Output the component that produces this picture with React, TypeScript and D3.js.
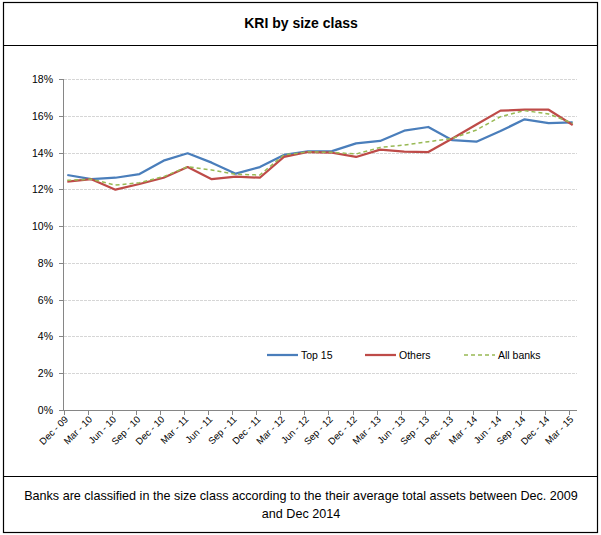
import React, { useEffect, useRef } from 'react';
import * as d3 from 'd3';

const quarters = [
  'Dec - 09', 'Mar - 10', 'Jun - 10', 'Sep - 10', 'Dec - 10', 'Mar - 11', 'Jun - 11', 'Sep - 11',
  'Dec - 11', 'Mar - 12', 'Jun - 12', 'Sep - 12', 'Dec - 12', 'Mar - 13', 'Jun - 13', 'Sep - 13',
  'Dec - 13', 'Mar - 14', 'Jun - 14', 'Sep - 14', 'Dec - 14', 'Mar - 15',
];

const top15 = [
  12.78, 12.56, 12.63, 12.83, 13.56, 13.96, 13.45, 12.85, 13.21, 13.87, 14.06,
  14.08, 14.5, 14.63, 15.19, 15.39, 14.67, 14.59, 15.17, 15.81, 15.6, 15.64,
];

const others = [
  12.42, 12.55, 11.98, 12.29, 12.63, 13.21, 12.55, 12.69, 12.63, 13.77, 14.03,
  13.99, 13.76, 14.16, 14.05, 14.03, 14.77, 15.53, 16.28, 16.33, 16.33, 15.5,
];

const allBanks = [
  12.49, 12.55, 12.23, 12.36, 12.69, 13.23, 13.05, 12.82, 12.78, 13.87, 14.04,
  14.01, 13.92, 14.28, 14.41, 14.59, 14.77, 15.23, 15.95, 16.28, 16.1, 15.59,
];

const yTicks = [0, 2, 4, 6, 8, 10, 12, 14, 16, 18];

const series = [
  { name: 'Top 15', values: top15, color: '#4a7ebb', width: 2.25, dash: null },
  { name: 'Others', values: others, color: '#be4b48', width: 2.25, dash: null },
  { name: 'All banks', values: allBanks, color: '#98b954', width: 1.5, dash: '4,3' },
];

const font = "'Liberation Sans', Arial, sans-serif";

export default function App() {
  const ref = useRef<SVGSVGElement>(null);

  useEffect(() => {
    const svg = d3.select(ref.current);
    svg.selectAll('*').remove();

    const W = 601, H = 535;

    // frame
    svg.append('rect').attr('width', W).attr('height', H).attr('fill', '#fff');
    svg.append('rect')
      .attr('x', 3.5).attr('y', 2.5).attr('width', 594).attr('height', 530)
      .attr('fill', 'none').attr('stroke', '#000').attr('stroke-width', 1.2);
    [45.5, 476.5].forEach(yy => {
      svg.append('line').attr('x1', 3.5).attr('x2', 597.5).attr('y1', yy).attr('y2', yy)
        .attr('stroke', '#000').attr('stroke-width', 1.2);
    });

    svg.append('text')
      .attr('x', 301).attr('y', 28)
      .attr('text-anchor', 'middle')
      .style('font-family', font).style('font-size', '14px').style('font-weight', 'bold')
      .text('KRI by size class');

    const footer = svg.append('text')
      .attr('text-anchor', 'middle')
      .style('font-family', font).style('font-size', '12.6px');
    footer.append('tspan').attr('x', 301).attr('y', 500)
      .text('Banks are classified in the size class according to the their average total assets between Dec. 2009');
    footer.append('tspan').attr('x', 301).attr('y', 518).text('and Dec 2014');

    // scales
    const x = d3.scalePoint<string>().domain(quarters).range([67.3, 572.7]);
    const y = d3.scaleLinear().domain([0, 18]).range([410, 79]);
    const tickOff = -3.6;

    // gridlines
    svg.append('g').selectAll('line')
      .data(yTicks.filter(t => t > 0))
      .enter().append('line')
      .attr('x1', 64).attr('x2', 577)
      .attr('y1', d => Math.round(y(d)) + 0.5).attr('y2', d => Math.round(y(d)) + 0.5)
      .attr('stroke', '#d6d6d6').attr('stroke-width', 1).attr('stroke-dasharray', '3,1');

    // y axis
    const ga = svg.append('g');
    ga.append('line').attr('x1', 63.5).attr('x2', 63.5).attr('y1', 79).attr('y2', 410)
      .attr('stroke', '#868686');
    ga.selectAll('line.t').data(yTicks).enter().append('line')
      .attr('class', 't')
      .attr('x1', 59).attr('x2', 63.5)
      .attr('y1', d => Math.round(y(d)) + 0.5).attr('y2', d => Math.round(y(d)) + 0.5)
      .attr('stroke', '#868686');
    ga.selectAll('text').data(yTicks).enter().append('text')
      .attr('x', 53).attr('y', d => y(d) + 4)
      .attr('text-anchor', 'end')
      .style('font-family', font).style('font-size', '10.5px').attr('fill', '#000')
      .text(d => d + '%');

    // x axis
    const gx = svg.append('g');
    gx.append('line').attr('x1', 63).attr('x2', 577).attr('y1', 410.5).attr('y2', 410.5)
      .attr('stroke', '#868686');
    gx.selectAll('line.t').data(quarters).enter().append('line')
      .attr('class', 't')
      .attr('x1', d => Math.round((x(d) as number) + tickOff) + 0.5)
      .attr('x2', d => Math.round((x(d) as number) + tickOff) + 0.5)
      .attr('y1', 410.5).attr('y2', 415)
      .attr('stroke', '#868686');
    gx.selectAll('text').data(quarters).enter().append('text')
      .attr('transform', d => `translate(${(x(d) as number) + tickOff + 5},${420}) rotate(-45)`)
      .attr('text-anchor', 'end')
      .style('font-family', font).style('font-size', '9.5px').attr('fill', '#000')
      .text(d => d);

    // lines
    const line = d3.line<number>()
      .x((_, i) => x(quarters[i]) as number)
      .y(d => y(d));

    series.forEach(s => {
      svg.append('path')
        .datum(s.values)
        .attr('d', line)
        .attr('fill', 'none')
        .attr('stroke', s.color)
        .attr('stroke-width', s.width)
        .attr('stroke-linejoin', 'round')
        .attr('stroke-dasharray', s.dash);
    });

    // legend
    const legendX = [267, 365, 464];
    const lg = svg.append('g');
    series.forEach((s, i) => {
      lg.append('line')
        .attr('x1', legendX[i]).attr('x2', legendX[i] + 31)
        .attr('y1', 355).attr('y2', 355)
        .attr('stroke', s.color).attr('stroke-width', s.width)
        .attr('stroke-dasharray', s.dash);
      lg.append('text')
        .attr('x', legendX[i] + 34).attr('y', 359)
        .style('font-family', font).style('font-size', '10.5px')
        .text(s.name);
    });
  }, []);

  return (
    <div style={{ position: 'absolute', left: 0, top: 0 }}>
      <svg ref={ref} width={601} height={535} style={{ display: 'block' }} />
    </div>
  );
}
